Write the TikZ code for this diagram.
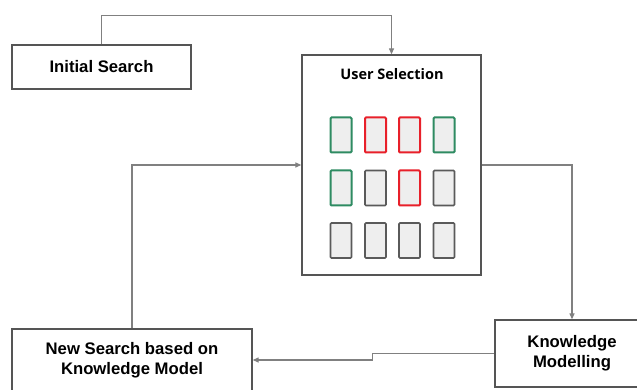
\documentclass[tikz,border=0pt]{standalone}
\usepackage{fontspec}
\setmainfont{Liberation Sans}
\newfontfamily\titlefont{Open Sans}
\usetikzlibrary{arrows.meta}
\definecolor{boxgray}{HTML}{555555}
\definecolor{linkgray}{HTML}{808080}
\definecolor{cardgray}{HTML}{5A5A5A}
\definecolor{cardfill}{HTML}{EEEEEE}
\definecolor{pickgreen}{HTML}{2E8B62}
\definecolor{pickred}{HTML}{E8202A}
\tikzset{
  stage/.style={draw=boxgray, line width=1.3pt, fill=white, align=center, inner sep=0pt,
    font=\bfseries\fontsize{16.7}{20}\selectfont},
  card/.style={draw=cardgray, line width=1.6pt, fill=cardfill, rounded corners=1pt,
    minimum width=21pt, minimum height=35pt, inner sep=0pt},
  liked/.style={card, draw=pickgreen, line width=2pt},
  disliked/.style={card, draw=pickred, line width=2pt},
  link/.style={draw=linkgray, line width=1.2pt, -{Triangle[length=6pt,width=5pt]}},
}
\begin{document}
\begin{tikzpicture}[x=1pt, y=-1pt]
    \useasboundingbox (0,0) rectangle (637,390);
    \clip (0,0) rectangle (637,390);
    % stages
    \node[stage, minimum width=179pt, minimum height=44pt] (init) at (101.5,67) {Initial Search};
    \node[stage, minimum width=179pt, minimum height=220pt] (sel) at (391.5,165) {};
    \node[font=\titlefont\bfseries\fontsize{14.5}{17}\selectfont] (seltitle) at (392,74) {User Selection};
    \node[stage, minimum width=154pt, minimum height=67pt] (km) at (572,353.5) {Knowledge\\Modelling};
    \node[stage, minimum width=240pt, minimum height=62pt] (ns) at (132,360) {New Search based on\\Knowledge Model};
    % cards, first row
    \node[liked] (c11) at (341,135) {};
    \node[disliked] (c12) at (375.5,135) {};
    \node[disliked] (c13) at (409.5,135) {};
    \node[liked] (c14) at (444,135) {};
    % second row
    \node[liked] (c21) at (341,188) {};
    \node[card] (c22) at (375.5,188) {};
    \node[disliked] (c23) at (409.5,188) {};
    \node[card] (c24) at (444,188) {};
    % third row
    \node[card] (c31) at (341,240.5) {};
    \node[card] (c32) at (375.5,240.5) {};
    \node[card] (c33) at (409.5,240.5) {};
    \node[card] (c34) at (444,240.5) {};
    % links
    \draw[link] (init.north) -- ++(0,-29) -| (sel.north);
    \draw[link] (sel.east) -| (km.north);
    \draw[link] (km.west) -- ++(-122,0) |- (ns.east);
    \draw[link] (ns.north) |- (sel.west);
\end{tikzpicture}
\end{document}
